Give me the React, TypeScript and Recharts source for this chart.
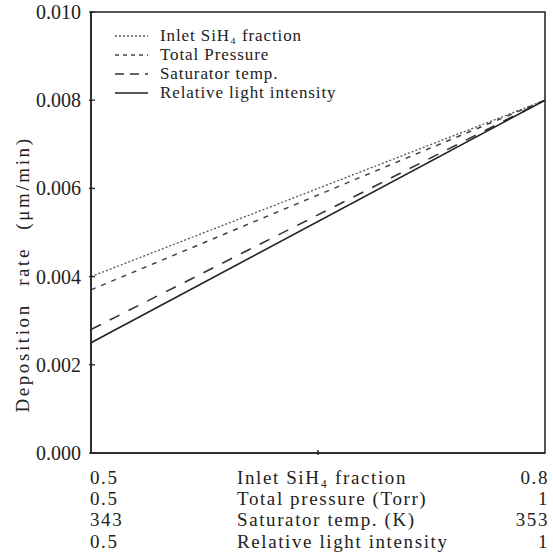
import React from 'react';
import { LineChart, Line, XAxis, YAxis, ReferenceArea } from 'recharts';

// Normalised position along each operating-parameter range (0 = low end, 1 = high end)
const paramPos = [0, 1];

// Deposition rate (um/min) at the low and high end of each parameter range
const inletRate = [0.004, 0.008];
const pressureRate = [0.0037, 0.008];
const satTempRate = [0.0028, 0.008];
const lightRate = [0.0025, 0.008];

const yTicks = [0, 0.002, 0.004, 0.006, 0.008, 0.01];
const xTicks = [0, 0.5, 1];

// Bottom scale labels, one row per parameter
const paramNames = ['Inlet SiH₄ fraction', 'Total pressure (Torr)', 'Saturator temp. (K)', 'Relative light intensity'];
const lowValues = ['0.5', '0.5', '343', '0.5'];
const highValues = ['0.8', '1', '353', '1'];

const seriesNames = ['Inlet SiH₄ fraction', 'Total Pressure', 'Saturator temp.', 'Relative light intensity'];

const FONT = '"Liberation Serif", "Times New Roman", serif';
const INK = '#222';

const series = [
  { key: 'inlet', name: seriesNames[0], dash: '2 2', legendDash: '2 2', color: '#555', width: 1.3 },
  { key: 'pressure', name: seriesNames[1], dash: '5 6', legendDash: '4 4', color: '#444', width: 1.5 },
  { key: 'satTemp', name: seriesNames[2], dash: '11 10', legendDash: '9 6', color: '#333', width: 1.6 },
  { key: 'light', name: seriesNames[3], dash: undefined, legendDash: undefined, color: '#222', width: 1.6 },
];

const data = paramPos.map((p, i) => ({
  p,
  inlet: inletRate[i],
  pressure: pressureRate[i],
  satTemp: satTempRate[i],
  light: lightRate[i],
}));

const rowOffsets = [29, 50, 71, 93];

function BottomTick(props: any) {
  const { x, y, payload } = props;
  const v = payload.value;
  const common = { fontFamily: FONT, fontSize: 19, fill: INK, letterSpacing: 1.6 };
  if (v === 0) {
    return (
      <g>
        {lowValues.map((t, i) => (
          <text key={i} x={x - 1} y={y + rowOffsets[i]} textAnchor="start" {...common}>{t}</text>
        ))}
      </g>
    );
  }
  if (v === 1) {
    return (
      <g>
        {highValues.map((t, i) => (
          <text key={i} x={x + 4} y={y + rowOffsets[i]} textAnchor="end" {...common}>{t}</text>
        ))}
      </g>
    );
  }
  return (
    <g>
      <line x1={x} x2={x} y1={y} y2={y - 5} stroke={INK} strokeWidth={1.5} />
      {paramNames.map((t, i) => (
        <text key={i} x={x - 81} y={y + rowOffsets[i]} textAnchor="start" {...common}>{t}</text>
      ))}
    </g>
  );
}

function LeftTick(props: any) {
  const { x, y, payload } = props;
  return (
    <g>
      <line x1={x} x2={x + 6} y1={y} y2={y} stroke={INK} strokeWidth={1.3} />
      <text x={x - 8} y={y + 7} textAnchor="end" fontFamily={FONT} fontSize={20} fill={INK}>
        {payload.value.toFixed(3)}
      </text>
    </g>
  );
}

function YLabel(props: any) {
  const { viewBox } = props;
  const cx = 22;
  const cy = viewBox.y + viewBox.height / 2 + 42;
  return (
    <text
      x={cx}
      y={cy}
      transform={`rotate(-90 ${cx} ${cy})`}
      textAnchor="middle"
      dominantBaseline="central"
      fontFamily={FONT}
      fontSize={19}
      letterSpacing={2.6}
      wordSpacing={10}
      fill={INK}
    >
      Deposition rate (μm/min)
    </text>
  );
}

function LegendBox() {
  return (
    <svg width={230} height={80} style={{ position: 'absolute', left: 115, top: 28, overflow: 'visible' }}>
      {series.map((s, i) => {
        const cy = 8 + i * 19;
        return (
          <g key={s.key}>
            <line x1={0} x2={33} y1={cy} y2={cy} stroke={s.color} strokeWidth={s.width} strokeDasharray={s.legendDash} />
            <text x={45} y={cy + 5} fontFamily={FONT} fontSize={17} letterSpacing={0.9} fill={INK}>{s.name}</text>
          </g>
        );
      })}
    </svg>
  );
}

export default function App() {
  return (
    <div style={{ position: 'fixed', left: 0, top: 0, width: 553, height: 555, background: '#fff', overflow: 'hidden' }}>
      <LineChart width={553} height={555} data={data} margin={{ top: 12, right: 8, bottom: 0, left: 0 }}>
        <XAxis
          dataKey="p"
          type="number"
          domain={[0, 1]}
          ticks={xTicks}
          height={102}
          tickSize={0}
          tickLine={false}
          axisLine={{ stroke: INK, strokeWidth: 1.5 }}
          tick={<BottomTick />}
          interval={0}
        />
        <YAxis
          type="number"
          domain={[0, 0.01]}
          ticks={yTicks}
          width={91}
          tickSize={0}
          tickLine={false}
          axisLine={{ stroke: INK, strokeWidth: 1.5 }}
          tick={<LeftTick />}
          interval={0}
          label={<YLabel />}
        />
        <ReferenceArea x1={0} x2={1} y1={0} y2={0.01} fill="none" stroke={INK} strokeWidth={1.5} ifOverflow="visible" />
        {series.map((s) => (
          <Line
            key={s.key}
            dataKey={s.key}
            name={s.name}
            stroke={s.color}
            strokeWidth={s.width}
            strokeDasharray={s.dash}
            dot={false}
            activeDot={false}
            isAnimationActive={false}
          />
        ))}
      </LineChart>
      <LegendBox />
    </div>
  );
}
